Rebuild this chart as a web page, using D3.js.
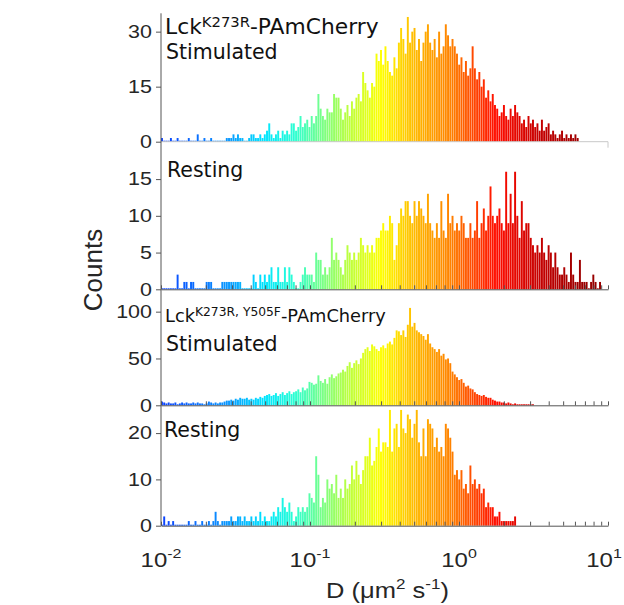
<!DOCTYPE html>
<html>
<head>
<meta charset="utf-8">
<script src="https://cdn.jsdelivr.net/npm/d3@7"></script>
<style>
  body { margin: 0; background: #fff; }
  svg { display: block; }
</style>
</head>
<body>
<div id="chart"></div>
<script>
// histogram bins in log10(D), first bin starts at 10^-2
const binStart = -2;
const binWidth = 0.015;

// Lck K273R, stimulated
const stimK273R = [
  1,0,0,0,1,0,0,1,0,0, 0,0,1,0,0,0,2,0,0,1, 0,0,1,0,0,0,0,0,0,1, 1,1,2,1,2,1,1,0,0,1,
  2,2,1,1,2,1,2,3,5,2, 1,2,3,1,3,2,3,2,5,5, 3,4,7,4,5,6,4,7,5,7, 13,9,7,6,9,8,8,13,12,12,
  9,6,8,10,7,11,9,12,13,11, 19,16,14,12,16,15,24,22,25,21, 26,22,19,18,23,20,27,31,28,24,
  34,27,30,31,25,28,22,27,30,32, 27,25,28,23,30,24,26,32,29,26, 28,26,24,21,23,19,22,18,20,26,
  20,17,19,15,17,12,14,11,13,10, 9,7,8,10,7,6,9,7,10,8, 7,5,6,4,7,5,6,4,5,3,
  6,3,4,5,2,3,2,1,2,3, 1,2,1,2,1,2,1
];
// Lck K273R, resting
const restK273R = [
  0,0,0,0,0,0,0,2,0,0, 1,1,0,1,1,0,0,0,0,0, 1,1,1,0,0,0,0,1,1,1, 1,1,1,1,1,1,0,0,0,0,
  0,2,1,0,2,1,2,1,2,3, 1,1,3,1,1,3,1,3,2,1, 0,0,1,2,3,2,2,2,1,5, 4,4,2,3,2,3,7,4,5,4,
  3,2,4,6,5,4,5,4,5,7, 6,5,6,5,6,5,7,7,8,9, 8,8,10,9,4,6,9,11,10,12,
  12,10,9,12,10,12,11,10,9,13, 9,8,7,9,7,12,8,7,13,9, 10,8,9,8,10,9,7,7,9,7,
  8,12,7,9,11,8,10,14,10,9, 10,11,9,8,16,9,13,9,16,10, 7,12,8,9,9,7,6,5,6,5,
  7,5,4,6,5,3,5,3,2,2, 3,2,1,5,2,1,1,4,1,1, 1,0,1,2,1,0,1
];
// Lck K273R,Y505F, stimulated
const stimK273RY505F = [
  4,3,2,3,2,2,3,1,2,3, 2,3,2,2,3,2,3,2,2,1, 2,4,3,2,3,2,3,3,4,5, 5,6,5,7,6,8,7,7,8,6,
  7,6,8,7,9,8,10,11,12,10, 11,13,10,12,14,11,13,15,12,14, 15,17,14,19,16,18,25,24,22,23,
  32,26,24,28,23,30,33,29,31,34, 35,38,36,42,46,40,45,48,44,50, 56,60,62,58,65,63,60,58,62,64,
  61,66,68,65,72,80,79,75,80,73, 86,104,84,88,80,78,76,74,70,76, 66,62,60,57,60,53,55,49,50,45,
  36,33,30,27,28,24,20,21,18,17, 14,12,11,10,11,9,8,8,6,5, 4,4,3,3,2,3,2,1,2,1,
  1,1,0,1,1,0,1
];
// Lck K273R,Y505F, resting
const restK273RY505F = [
  0,2,0,1,0,1,0,0,0,0, 0,0,1,0,0,1,0,0,1,0, 0,1,0,1,3,1,0,1,1,1, 1,2,1,1,2,2,1,2,1,1,
  2,1,2,1,3,1,2,1,1,2, 3,2,4,3,6,4,3,5,3,1, 2,4,3,4,3,4,7,6,5,15, 11,4,6,5,10,8,9,7,11,6,
  8,6,10,8,9,13,10,14,11,9, 12,15,15,19,13,14,17,21,16,18, 18,17,25,16,21,22,17,25,21,20,
  24,23,19,22,25,18,15,21,15,23, 22,21,17,19,16,17,15,22,21,19, 16,11,12,10,12,8,9,7,13,9,
  10,8,9,7,8,4,5,4,4,2, 2,3,1,1,1,1,1,1,2
];

const yMaxes = [35, 19, 110, 26];
const yTicks = [[0, 15, 30], [0, 5, 10, 15], [0, 50, 100], [0, 10, 20]];
const xMajors = [0.01, 0.1, 1, 10];
const xExponents = ["-2", "-1", "0", "1"];

// colour stops along log10(D)
const colourStops = [-2.0, -1.55, -1.3, -1.1, -0.95, -0.75, -0.52, -0.3, -0.05, 0.25, 0.55, 0.85];
const colourValues = ["#0a40ff", "#0a98ff", "#00e6ff", "#2effd2", "#6cff95", "#b9ff42",
                      "#ffff00", "#ffbb00", "#ff8000", "#ff0d00", "#c40000", "#980000"];

const W = 624, H = 605;
const LEFT = 161, RIGHT = 608;
const SQUASH = 0.83; // the Arial labels in the figure are vertically compressed
const ARIAL = "Liberation Sans, Arial, sans-serif";

const svg = d3.select("#chart").append("svg")
  .attr("width", W)
  .attr("height", H);

const x = d3.scaleLog().domain([0.01, 10]).range([LEFT, RIGHT]);
const colour = d3.scaleLinear().domain(colourStops).range(colourValues).clamp(true);

// minor + major log ticks
const xTickValues = [];
[0.01, 0.1, 1].forEach(d => {
  for (let k = 1; k < 10; k++) xTickValues.push(d * k);
});
xTickValues.push(10);

const panels = [
  { counts: stimK273R, top: 13.3, bottom: 141.7, xTicks: false },
  { counts: restK273R, top: 149.7, bottom: 289.3, xTicks: true },
  { counts: stimK273RY505F, top: 302.3, bottom: 405.3, xTicks: true },
  { counts: restK273RY505F, top: 405.3, bottom: 525.7, xTicks: true }
];

panels.forEach((p, pi) => {
  const y = d3.scaleLinear().domain([0, yMaxes[pi]]).range([p.bottom, p.top]);
  const g = svg.append("g");

  // bars
  g.selectAll("rect")
    .data(p.counts)
    .join("rect")
    .attr("x", (d, i) => x(Math.pow(10, binStart + i * binWidth)))
    .attr("width", (d, i) => x(Math.pow(10, binStart + (i + 1) * binWidth)) - x(Math.pow(10, binStart + i * binWidth)) - 0.3)
    .attr("y", d => Math.min(y(d), p.bottom - 1))
    .attr("height", d => Math.max(p.bottom - y(d), 1))
    .attr("fill", (d, i) => colour(binStart + (i + 0.5) * binWidth));

  // y axis
  const yAxis = g.append("g")
    .attr("transform", `translate(${LEFT},0)`)
    .call(d3.axisLeft(y).tickValues(yTicks[pi]).tickSize(5).tickPadding(4).tickSizeOuter(0));
  yAxis.select(".domain").remove();
  yAxis.selectAll("line").attr("stroke", "#555");
  yAxis.selectAll("text")
    .attr("font-family", ARIAL)
    .attr("font-size", 21.5)
    .attr("fill", "#262626")
    .attr("transform", `scale(1,${SQUASH})`);

  // x axis
  if (p.xTicks) {
    const xAxis = g.append("g")
      .attr("transform", `translate(0,${p.bottom})`)
      .call(d3.axisBottom(x).tickValues(xTickValues).tickSize(-4).tickSizeOuter(0).tickFormat(""));
    xAxis.select(".domain").attr("stroke", "#555");
    xAxis.selectAll("line").attr("stroke", "#555");
  } else {
    g.append("line")
      .attr("x1", LEFT).attr("x2", RIGHT)
      .attr("y1", p.bottom).attr("y2", p.bottom)
      .attr("stroke", "#c8c8c8");
    g.append("line")
      .attr("x1", RIGHT).attr("x2", RIGHT)
      .attr("y1", p.bottom).attr("y2", p.bottom + 6)
      .attr("stroke", "#c8c8c8");
  }
});

// continuous left spine
svg.append("line")
  .attr("x1", LEFT).attr("x2", LEFT)
  .attr("y1", 13.3).attr("y2", 525.7)
  .attr("stroke", "#555");

// x tick labels on bottom panel (last one nudged so it stays inside the page)
xMajors.forEach((v, i) => {
  const cx = Math.min(x(v), W - 20);
  const t = svg.append("text")
    .attr("transform", `translate(${cx},567) scale(1,${SQUASH})`)
    .attr("text-anchor", "middle")
    .attr("font-family", ARIAL)
    .attr("fill", "#262626")
    .attr("font-size", 24);
  t.append("tspan").text("10");
  t.append("tspan").attr("dy", -11).attr("font-size", 16).text(xExponents[i]);
});

// axis titles
const xt = svg.append("text")
  .attr("transform", `translate(${(LEFT + RIGHT) / 2 + 3},598) scale(1,${SQUASH})`)
  .attr("text-anchor", "middle")
  .attr("font-family", ARIAL)
  .attr("font-size", 25.5)
  .attr("fill", "#262626");
xt.append("tspan").text("D (");
xt.append("tspan").text("\u03bc");
xt.append("tspan").text("m");
xt.append("tspan").attr("dy", -11).attr("font-size", 17).text("2");
xt.append("tspan").attr("dy", 11).text(" s");
xt.append("tspan").attr("dy", -11).attr("font-size", 17).text("-1");
xt.append("tspan").attr("dy", 11).text(")");

svg.append("text")
  .attr("transform", "translate(102,270) rotate(-90)")
  .attr("text-anchor", "middle")
  .attr("font-family", ARIAL)
  .attr("font-size", 26)
  .attr("fill", "#262626")
  .text("Counts");

// panel annotations
const ann = svg.append("g")
  .attr("font-family", "DejaVu Sans, Verdana, sans-serif")
  .attr("font-size", 20.5)
  .attr("fill", "#111");

function construct(yBase, sup, size, supSize, rise) {
  const t = ann.append("text").attr("x", 165).attr("y", yBase).attr("font-size", size);
  t.append("tspan").text("Lck");
  t.append("tspan").attr("dy", -rise).attr("font-size", supSize).text(sup);
  t.append("tspan").attr("dy", rise).text("-PAmCherry");
}
construct(33.5, "K273R", 21.8, 14.8, 7);
ann.append("text").attr("x", 166).attr("y", 58.5).text("Stimulated");
ann.append("text").attr("x", 167).attr("y", 177).text("Resting");
construct(321.5, "K273R, Y505F", 17.8, 12.3, 6);
ann.append("text").attr("x", 166).attr("y", 350.5).text("Stimulated");
ann.append("text").attr("x", 164).attr("y", 437).text("Resting");
</script>
</body>
</html>
